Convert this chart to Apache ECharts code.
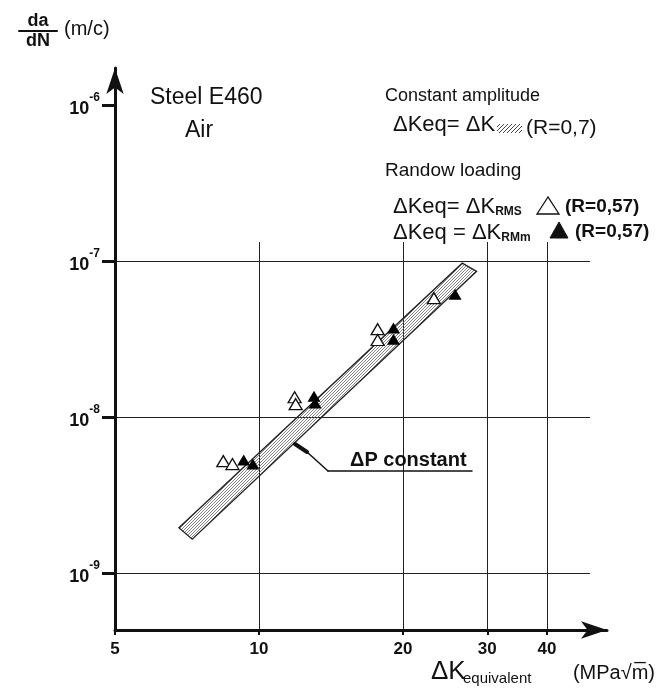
<!DOCTYPE html>
<html><head><meta charset="utf-8">
<script src="https://cdn.jsdelivr.net/npm/echarts@6/dist/echarts.min.js"></script>
<style>html,body{margin:0;padding:0;background:#fff}#c{width:660px;height:692px}</style>
</head><body><div id="c"></div>
<script>
// ---- data ----
const xTickValues = [5, 10, 20, 30, 40];
const xGridValues = [10, 20, 30, 40];
const yTickValues = [1e-9, 1e-8, 1e-7, 1e-6];
const yGridValues = [1e-9, 1e-8, 1e-7];
const bandUpperK = [6.8, 26.6];
const bandUpperRate = [1.95e-9, 9.7e-8];
const bandLowerK = [7.25, 28.5];
const bandLowerRate = [1.65e-9, 8.6e-8];
const rmsK = [8.42, 8.8, 11.87, 11.93, 17.7, 17.7, 23.2];
const rmsRate = [5.22e-9, 5.0e-9, 1.34e-8, 1.21e-8, 3.66e-8, 3.12e-8, 5.79e-8];
const rmmK = [9.29, 9.71, 13.03, 13.1, 19.1, 19.1, 25.7];
const rmmRate = [5.3e-9, 5.0e-9, 1.36e-8, 1.23e-8, 3.72e-8, 3.16e-8, 6.14e-8];

const L = Math.log10;
const F = "'Liberation Sans', Arial, sans-serif";
const INK = '#111';

function makeHatch(s, color, lw) {
  const c = document.createElement('canvas');
  c.width = s; c.height = s;
  const g = c.getContext('2d');
  g.strokeStyle = color; g.lineWidth = lw;
  g.beginPath();
  g.moveTo(-1, s + 1); g.lineTo(s + 1, -1);
  g.moveTo(-1, 1); g.lineTo(1, -1);
  g.moveTo(s - 1, s + 1); g.lineTo(s + 1, s - 1);
  g.stroke();
  return c;
}
const hatch = { image: makeHatch(3, '#666', 0.8), repeat: 'repeat' };
const hatchLegend = { image: makeHatch(4, '#333', 0.9), repeat: 'repeat' };

function txt(x, y, text, size, opts) {
  return { type: 'text', x: x, y: y, silent: true, z: 10,
    style: Object.assign({ text: text, fontSize: size, fontFamily: F, fill: INK,
      align: 'left', verticalAlign: 'middle', textAlign: 'left', textVerticalAlign: 'middle' }, opts || {}) };
}
function seg(x1, y1, x2, y2, w) {
  return { type: 'line', silent: true, z: 10, shape: { x1: x1, y1: y1, x2: x2, y2: y2 },
    style: { stroke: INK, lineWidth: w, lineCap: 'round' } };
}
const eqRich = {
  a: { fontSize: 22, fontFamily: F, fill: INK, lineHeight: 28, verticalAlign: 'bottom' },
  s: { fontSize: 12, fontFamily: F, fontWeight: 'bold', fill: INK, lineHeight: 14, verticalAlign: 'bottom' },
  t: { fontSize: 12, fontFamily: F, fontWeight: 'bold', fill: INK, lineHeight: 6, verticalAlign: 'bottom' }
};
function eq(x, y, text) {
  return { type: 'text', x: x, y: y, silent: true, z: 10,
    style: { text: text, rich: eqRich, fontSize: 22, fontFamily: F, fill: INK,
      align: 'left', verticalAlign: 'top', textAlign: 'left', textVerticalAlign: 'top' } };
}

const chart = echarts.init(document.getElementById('c'), null, { renderer: 'canvas' });
const X0 = L(5);
chart.setOption({
  animation: false,
  backgroundColor: '#fff',
  grid: [
    { left: 115, right: 53, top: 68, bottom: 62, containLabel: false },
    { left: 115, right: 70, top: 242, bottom: 62, containLabel: false }
  ],
  xAxis: [
    { type: 'value', gridIndex: 0, min: X0, max: 1.7274,
      axisLine: { show: true, symbol: ['none', 'arrow'], symbolSize: [13, 26], lineStyle: { color: INK, width: 3 } },
      axisTick: { show: true, customValues: xTickValues.map(L), length: 5, lineStyle: { color: INK, width: 2 } },
      axisLabel: { show: true, customValues: xTickValues.map(L), formatter: v => String(Math.round(Math.pow(10, v))),
        fontSize: 17, fontWeight: 'bold', fontFamily: F, color: INK, margin: 11 },
      splitLine: { show: false } },
    { type: 'value', gridIndex: 1, min: X0, max: 1.6919,
      axisLine: { show: false }, axisTick: { show: false, customValues: xGridValues.map(L) },
      axisLabel: { show: false }, splitLine: { show: true, lineStyle: { color: '#222', width: 1 } } }
  ],
  yAxis: [
    { type: 'value', gridIndex: 0, min: -9.365, max: -5.762,
      axisLine: { show: true, symbol: ['none', 'arrow'], symbolSize: [13, 26], lineStyle: { color: INK, width: 3 } },
      axisTick: { show: true, customValues: yTickValues.map(L), length: 13, lineStyle: { color: INK, width: 3 } },
      axisLabel: { show: true, customValues: yTickValues.map(L), margin: 15,
        formatter: v => '{b|10}{s|' + Math.round(v) + '}',
        rich: { b: { fontSize: 18, fontWeight: 'bold', fontFamily: F, color: INK, lineHeight: 26, verticalAlign: 'bottom' },
                s: { fontSize: 12, fontWeight: 'bold', fontFamily: F, color: INK, lineHeight: 26, verticalAlign: 'top' } } },
      splitLine: { show: false } },
    { type: 'value', gridIndex: 1, min: -9.365, max: -6.878,
      axisLine: { show: false }, axisTick: { show: false, customValues: yGridValues.map(L) },
      axisLabel: { show: false }, splitLine: { show: true, lineStyle: { color: '#222', width: 1 } } }
  ],
  series: [
    { type: 'custom', name: 'Constant amplitude', xAxisIndex: 0, yAxisIndex: 0, z: 2, silent: true,
      data: [[L(10), -8]],
      renderItem: function (params, api) {
        const pts = [];
        for (let i = 0; i < bandUpperK.length; i++) pts.push(api.coord([L(bandUpperK[i]), L(bandUpperRate[i])]));
        for (let i = bandLowerK.length - 1; i >= 0; i--) pts.push(api.coord([L(bandLowerK[i]), L(bandLowerRate[i])]));
        return { type: 'polygon', shape: { points: pts }, style: { fill: hatch, stroke: '#222', lineWidth: 1.3 } };
      } },
    { type: 'scatter', name: 'RMS', xAxisIndex: 0, yAxisIndex: 0, z: 5,
      data: rmsK.map((k, i) => [L(k), L(rmsRate[i])]),
      symbol: 'triangle', symbolSize: [13, 11],
      itemStyle: { color: '#fff', borderColor: INK, borderWidth: 1.3, opacity: 1 } },
    { type: 'scatter', name: 'RMm', xAxisIndex: 0, yAxisIndex: 0, z: 6,
      data: rmmK.map((k, i) => [L(k), L(rmmRate[i])]),
      symbol: 'triangle', symbolSize: [13, 11],
      itemStyle: { color: '#000', opacity: 1 } }
  ],
  graphic: [
    txt(38, 21, 'da', 18, { align: 'center', textAlign: 'center', fontWeight: 'bold' }),
    seg(19, 31, 57, 31, 2),
    txt(38, 41, 'dN', 18, { align: 'center', textAlign: 'center', fontWeight: 'bold' }),
    txt(64, 29, '(m/c)', 20),
    txt(150, 98, 'Steel E460', 23),
    txt(185, 131, 'Air', 23),
    txt(385, 96, 'Constant amplitude', 18),
    eq(393, 108, '{a|ΔKeq= ΔK}'),
    { type: 'rect', silent: true, z: 10, shape: { x: 497, y: 124, width: 25, height: 9 }, style: { fill: hatchLegend, stroke: null } },
    txt(526, 128, '(R=0,7)', 21),
    txt(385, 171, 'Randow loading', 19),
    eq(393, 190, '{a|ΔKeq= ΔK}{s|RMS}'),
    { type: 'polygon', silent: true, z: 10, shape: { points: [[548, 197], [537, 214], [559, 214]] }, style: { fill: '#fff', stroke: INK, lineWidth: 1.3 } },
    txt(565, 207, '(R=0,57)', 19, { fontWeight: 'bold' }),
    eq(393, 216, '{a|ΔKeq = ΔK}{s|RM}{t|m}'),
    { type: 'polygon', silent: true, z: 10, shape: { points: [[559, 222], [550, 238], [568, 238]] }, style: { fill: INK, stroke: INK, lineWidth: 1 } },
    txt(575, 232, '(R=0,57)', 19, { fontWeight: 'bold' }),
    txt(350, 460, 'ΔP constant', 20, { fontWeight: 'bold' }),
    seg(328, 471, 472, 471, 1.5),
    seg(328, 471, 307, 452, 1.5),
    seg(307, 452, 295, 444, 4),
    txt(431, 672, 'ΔK', 26),
    txt(463, 679, 'equivalent', 15),
    txt(655, 673, '(MPa√m̅)', 20, { align: 'right', textAlign: 'right' })
  ]
});
</script></body></html>
